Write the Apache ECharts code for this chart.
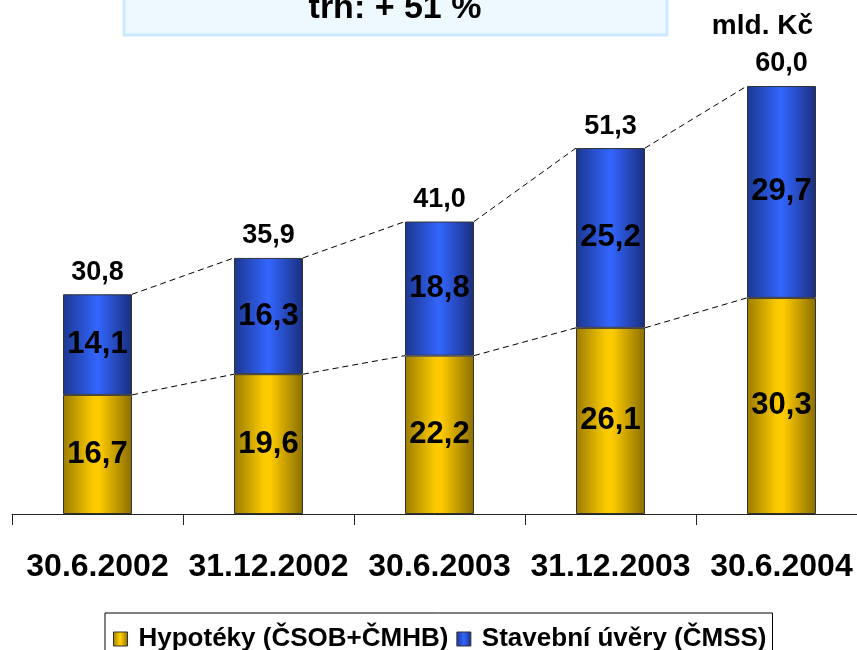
<!DOCTYPE html>
<html>
<head>
<meta charset="utf-8">
<script src="https://cdn.jsdelivr.net/npm/echarts@6/dist/echarts.min.js"></script>
<style>
html,body{margin:0;padding:0;background:#fff;}
#c{width:857px;height:650px;}
</style>
</head>
<body>
<div id="c"></div>
<script>
const categories = ['30.6.2002', '31.12.2002', '30.6.2003', '31.12.2003', '30.6.2004'];
const hypoteky = [16.7, 19.6, 22.2, 26.1, 30.3];
const stavebni = [14.1, 16.3, 18.8, 25.2, 29.7];
const totals = [30.8, 35.9, 41.0, 51.3, 60.0];
const seriesNames = ['Hypotéky (ČSOB+ČMHB)', 'Stavební úvěry (ČMSS)'];
const unitLabel = 'mld. Kč';
const headline = 'trh: + 51 %';

const FONT = '"Liberation Sans", Arial, sans-serif';
const fmt = v => v.toFixed(1).replace('.', ',');
const BAR_W = 69;

const yellow = {type:'linear',x:0,y:0,x2:1,y2:0,colorStops:[
  {offset:0,color:'#9C7C00'},{offset:0.42,color:'#F8C800'},{offset:0.52,color:'#FFCC00'},{offset:1,color:'#8A6E00'}]};
const blue = {type:'linear',x:0,y:0,x2:1,y2:0,colorStops:[
  {offset:0,color:'#1C3790'},{offset:0.5,color:'#3366FF'},{offset:1,color:'#1A2E7E'}]};

const connectors = [];
for (let i = 0; i < categories.length - 1; i++) {
  connectors.push([i, hypoteky[i], hypoteky[i+1], totals[i], totals[i+1]]);
}

const chart = echarts.init(document.getElementById('c'));
chart.setOption({
  animation: false,
  backgroundColor: '#fff',
  textStyle: {fontFamily: FONT},
  grid: {left: 12, width: 855, top: 86, bottom: 136, containLabel: false, outerBoundsMode: 'none'},
  graphic: [
    {type:'rect', shape:{x:124, y:-10, width:543, height:45},
     style:{fill:'#EEF8FF', stroke:'#CDE9FF', lineWidth:3}, z:10},
    {type:'text', x:395, y:9, z:11,
     style:{text: headline, fontFamily: FONT, fontWeight:'bold', fontSize:34, fill:'#000',
            textAlign:'center', textVerticalAlign:'middle'}},
    {type:'text', x:813, y:26, z:11,
     style:{text: unitLabel, fontFamily: FONT, fontWeight:'bold', fontSize:28, fill:'#000',
            textAlign:'right', textVerticalAlign:'middle'}}
  ],
  legend: {
    data: seriesNames,
    left: 105, top: 613,
    orient: 'horizontal',
    icon: 'rect',
    borderColor: '#000', borderWidth: 1,
    padding: [13, 6, 20, 8],
    itemWidth: 14, itemHeight: 14, itemGap: 8,
    textStyle: {fontFamily: FONT, fontWeight:'bold', fontSize:26, color:'#000', padding:[0,0,0,6]},
    itemStyle: {borderColor:'#333', borderWidth:1}
  },
  xAxis: {
    type: 'category',
    data: categories,
    boundaryGap: true,
    axisLine: {show:true, lineStyle:{color:'#222', width:1}},
    axisTick: {show:true, length:11, lineStyle:{color:'#222', width:1}},
    axisLabel: {fontFamily: FONT, fontWeight:'bold', fontSize:32, color:'#000', margin:37, interval:0},
    splitLine: {show:false}
  },
  yAxis: {
    type: 'value', min: 0, max: 60,
    show: false,
    splitLine: {show:false}
  },
  series: [
    {
      name: seriesNames[0], type: 'bar', stack: 'a', data: hypoteky,
      barWidth: BAR_W,
      itemStyle: {color: yellow, borderColor:'#333', borderWidth:1},
      label: {show:true, position:'inside', formatter: p => fmt(p.value),
              fontFamily: FONT, fontWeight:'bold', fontSize:31, color:'#000'},
      z: 3
    },
    {
      name: seriesNames[1], type: 'bar', stack: 'a', data: stavebni,
      barWidth: BAR_W,
      itemStyle: {color: blue, borderColor:'#333', borderWidth:1},
      label: {show:true, position:'inside', formatter: p => fmt(p.value),
              fontFamily: FONT, fontWeight:'bold', fontSize:31, color:'#000'},
      z: 3
    },
    {
      name: 'totals', type: 'scatter', data: totals,
      symbolSize: 1, itemStyle: {color: 'rgba(0,0,0,0)', opacity: 1},
      label: {show:true, position:'top', distance:8, formatter: p => fmt(p.value),
              fontFamily: FONT, fontWeight:'bold', fontSize:27, color:'#000', opacity: 1},
      silent: true, z: 5
    },
    {
      name: 'connectors', type: 'custom', data: connectors,
      renderItem: function (params, api) {
        const i = api.value(0);
        const half = BAR_W / 2;
        const a1 = api.coord([i, api.value(1)]);
        const b1 = api.coord([i + 1, api.value(2)]);
        const a2 = api.coord([i, api.value(3)]);
        const b2 = api.coord([i + 1, api.value(4)]);
        const st = {stroke:'#000', lineWidth:1, lineDash:[6,4], fill:null};
        return {type:'group', children:[
          {type:'line', shape:{x1:a1[0]+half, y1:a1[1], x2:b1[0]-half, y2:b1[1]}, style:st},
          {type:'line', shape:{x1:a2[0]+half, y1:a2[1], x2:b2[0]-half, y2:b2[1]}, style:st}
        ]};
      },
      silent: true, z: 4
    }
  ]
});
</script>
</body>
</html>
